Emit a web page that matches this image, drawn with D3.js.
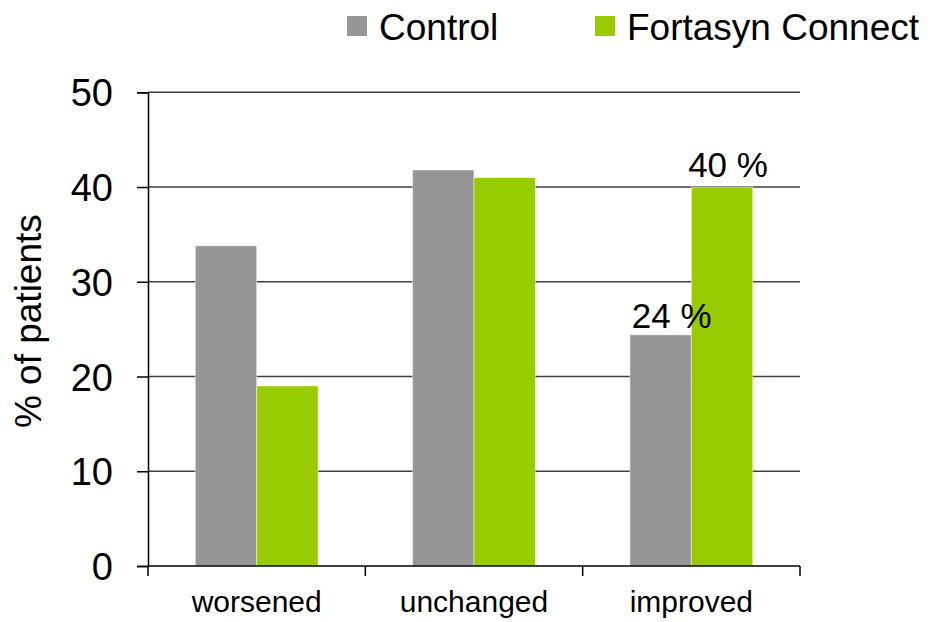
<!DOCTYPE html>
<html>
<head>
<meta charset="utf-8">
<script src="https://cdn.jsdelivr.net/npm/d3@7/dist/d3.min.js"></script>
<style>
  html, body { margin: 0; padding: 0; background: #fff; }
  svg { display: block; font-family: "Liberation Sans", Arial, sans-serif; }
</style>
</head>
<body>
<svg id="chart" width="931" height="622"></svg>
<script>
// Patient outcome categories and the share of patients (%) in each arm
const categories = ["worsened", "unchanged", "improved"];
const seriesNames = ["Control", "Fortasyn Connect"];
const controlValues = [33.8, 41.8, 24.4];
const fortasynValues = [19.0, 41.0, 40.0];
const yTicks = [0, 10, 20, 30, 40, 50];
// Only the "improved" bars carry value labels
const labelledCategories = ["improved"];

const colors = { "Control": "#969696", "Fortasyn Connect": "#99cc00" };
const valuesBySeries = { "Control": controlValues, "Fortasyn Connect": fortasynValues };

const svg = d3.select("#chart");
const plot = { left: 148, right: 800, top: 92.3, bottom: 566 };

const x = d3.scaleBand().domain(categories).range([plot.left, plot.right]).paddingInner(0).paddingOuter(0);
const xSub = d3.scaleBand().domain(seriesNames).range([0, x.bandwidth()]).paddingInner(0).paddingOuter(0.77);
const y = d3.scaleLinear().domain([0, 50]).range([plot.bottom, plot.top]);

// Horizontal gridlines behind the bars
svg.append("g")
  .selectAll("line")
  .data(yTicks.filter(d => d > 0))
  .join("line")
  .attr("x1", plot.left).attr("x2", plot.right)
  .attr("y1", d => y(d)).attr("y2", d => y(d))
  .attr("stroke", "#404040").attr("stroke-width", 1.4);

// Bars
const rows = categories.map((c, i) => ({
  category: c,
  values: seriesNames.map(s => ({ series: s, value: valuesBySeries[s][i], category: c }))
}));

const groups = svg.append("g").selectAll("g")
  .data(rows).join("g")
  .attr("transform", d => `translate(${x(d.category)},0)`);

groups.selectAll("rect")
  .data(d => d.values).join("rect")
  .attr("x", d => xSub(d.series))
  .attr("width", xSub.bandwidth())
  .attr("y", d => y(d.value))
  .attr("height", d => y(0) - y(d.value))
  .attr("fill", d => colors[d.series])
  .attr("stroke", "#ffffff").attr("stroke-opacity", 0.45).attr("stroke-width", 1);

// Value labels
const labelShift = { "Control": 11, "Fortasyn Connect": 6 };
const labelGap = { "Control": 7, "Fortasyn Connect": 10 };
groups.filter(d => labelledCategories.includes(d.category))
  .selectAll("text.value")
  .data(d => d.values).join("text")
  .attr("class", "value")
  .attr("x", d => xSub(d.series) + xSub.bandwidth() / 2 + labelShift[d.series])
  .attr("y", d => y(d.value) - labelGap[d.series])
  .attr("text-anchor", "middle")
  .attr("font-size", 35)
  .attr("fill", "#000")
  .text(d => Math.round(d.value) + " %");

// Y axis
const yAxis = d3.axisLeft(y).tickValues(yTicks).tickSize(11).tickPadding(24).tickFormat(d3.format("d"));
const gy = svg.append("g").attr("transform", `translate(${plot.left},0)`).call(yAxis);
gy.select(".domain").attr("stroke", "#000").attr("stroke-width", 1.5);
gy.selectAll(".tick line").attr("stroke", "#000").attr("stroke-width", 1.5);
gy.selectAll(".tick text").attr("font-size", 38).attr("fill", "#000")
  .attr("font-family", "Liberation Sans, Arial, sans-serif").attr("dy", "0.36em");

// X axis: ticks at category boundaries
const xAxisG = svg.append("g").attr("transform", `translate(0,${plot.bottom})`);
xAxisG.append("line")
  .attr("x1", plot.left).attr("x2", plot.right)
  .attr("stroke", "#000").attr("stroke-width", 1.5);
const boundaries = categories.map(c => x(c)).concat([x(categories[categories.length - 1]) + x.bandwidth()]);
xAxisG.selectAll("line.tick")
  .data(boundaries).join("line")
  .attr("class", "tick")
  .attr("x1", d => d).attr("x2", d => d)
  .attr("y1", 0).attr("y2", 10)
  .attr("stroke", "#000").attr("stroke-width", 1.5);
xAxisG.selectAll("text")
  .data(categories).join("text")
  .attr("x", d => x(d) + x.bandwidth() / 2)
  .attr("y", 46)
  .attr("text-anchor", "middle")
  .attr("font-size", 30)
  .attr("fill", "#000")
  .text(d => d);

// Y axis title
svg.append("text")
  .attr("transform", `translate(41,${(plot.top + plot.bottom) / 2 - 8}) rotate(-90)`)
  .attr("text-anchor", "middle")
  .attr("font-size", 37)
  .attr("fill", "#000")
  .text("% of patients");

// Legend
const legendPos = [347, 595];
const legend = svg.append("g").selectAll("g")
  .data(seriesNames).join("g")
  .attr("transform", (d, i) => `translate(${legendPos[i]},0)`);
legend.append("rect")
  .attr("x", 0).attr("y", 16).attr("width", 20).attr("height", 20)
  .attr("fill", d => colors[d]);
legend.append("text")
  .attr("x", 32).attr("y", 40)
  .attr("font-size", 37)
  .attr("fill", "#000")
  .text(d => d);
</script>
</body>
</html>
